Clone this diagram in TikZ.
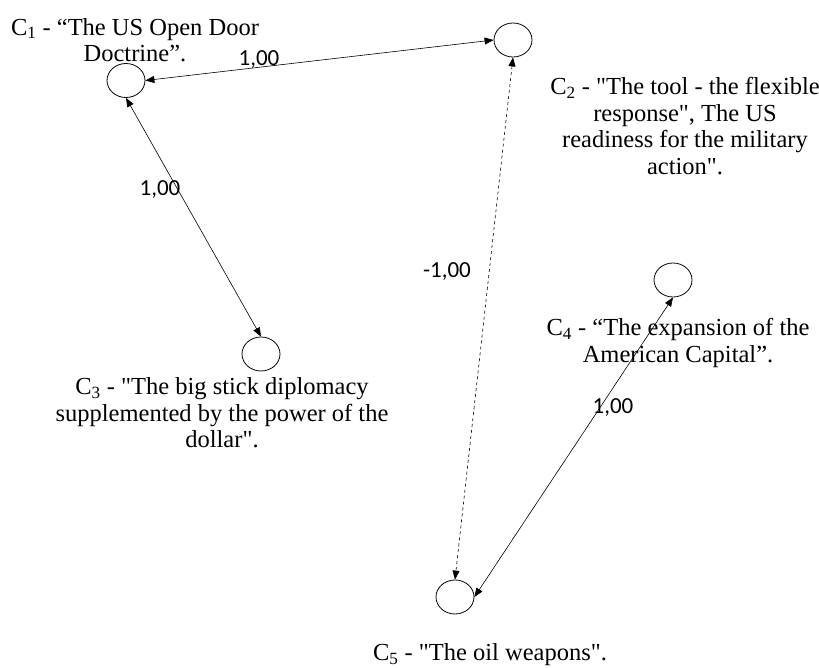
\documentclass[tikz,border=0pt]{standalone}
\usepackage{fontspec}
\setmainfont{Liberation Serif}
\newfontfamily\lblfont{Carlito}
\usetikzlibrary{arrows.meta,shapes.geometric}
\newcommand{\sq}{\textquotedbl}
\tikzset{
  concept/.style={draw, ellipse, line width=0.8pt, minimum width=38pt, minimum height=34pt, inner sep=0pt},
  desc/.style={align=center, inner sep=0pt, font=\fontsize{24.5}{26.5}\selectfont},
  weight/.style={inner sep=0pt, font=\lblfont\fontsize{23}{26}\selectfont},
  link/.style={line width=0.6pt, {Triangle[length=9pt,width=7pt]}-{Triangle[length=9pt,width=7pt]}},
}
\begin{document}
\begin{tikzpicture}[x=1pt,y=-1pt]
\useasboundingbox (0,0) rectangle (819,668);
\node[concept] (c1) at (126,80.5) {};
\node[concept] (c2) at (513,40) {};
\node[concept] (c3) at (261,354) {};
\node[concept] (c4) at (673,280) {};
\node[concept] (c5) at (455,597) {};

\node[desc] (t1) at (135,40) {C\textsubscript{1} - “The US Open Door\\Doctrine”.};
\node[desc] (t2) at (685,126) {C\textsubscript{2} - \sq The tool - the flexible\\response\sq, The US\\readiness for the military\\action\sq.};
\node[desc] (t3) at (222,413) {C\textsubscript{3} - \sq The big stick diplomacy\\supplemented by the power of the\\dollar\sq.};
\node[desc] (t4) at (678,343) {C\textsubscript{4} - “The expansion of the\\American Capital”.};
\node[desc] (t5) at (490,655) {C\textsubscript{5} - \sq The oil weapons\sq.};

\draw[link] (c1.east) -- (c2.west);
\draw[link] (c1.south) -- (c3.north);
\draw[link, dashed] (c2.south) -- (c5.north);
\draw[link] (c4.south) -- (c5.east);

\node[weight] (w12) at (259,60) {1,00};
\node[weight] (w13) at (160,190) {1,00};
\node[weight] (w25) at (447,272) {-1,00};
\node[weight] (w45) at (613,408) {1,00};
\end{tikzpicture}
\end{document}
